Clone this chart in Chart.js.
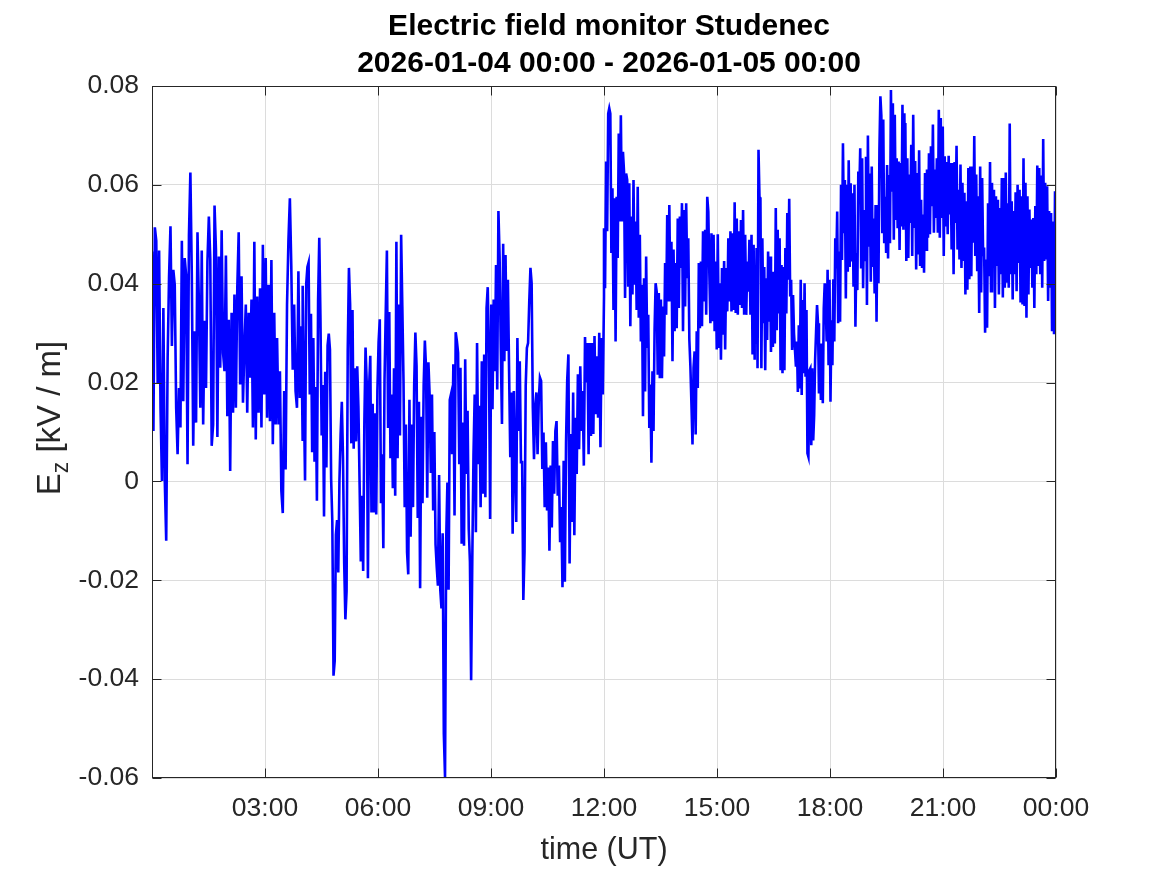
<!DOCTYPE html>
<html>
<head>
<meta charset="utf-8">
<title>Electric field monitor Studenec</title>
<script src="https://cdn.jsdelivr.net/npm/chart.js@4.4.1/dist/chart.umd.min.js"></script>
<style>
  html, body { margin: 0; padding: 0; background: #fff; }
  canvas { display: block; }
</style>
</head>
<body>
<canvas id="ezChart" width="1167" height="875"></canvas>
<script>
// Texts
const titleLines = ['Electric field monitor Studenec', '2026-01-04 00:00 - 2026-01-05 00:00'];
const xAxisLabel = 'time (UT)';
const yLabelMain = 'E';
const yLabelSub = 'z';
const yLabelUnit = ' [kV / m]';

// Axis ranges (hours since 2026-01-04 00:00 UT, kV/m)
const xMin = 0, xMax = 24, xStep = 3;
const yMin = -0.06, yMax = 0.08, yStep = 0.02;

// Ez samples [kV/m] in 4-hour blocks
const ez_00_04 = [0.0465, 0.0102, 0.0514, 0.0487, 0.0199, 0.0467, 0.0149, 0.0001, 0.0351, 0.0001,
  -0.0120, 0.0250, 0.0415, 0.0516, 0.0274, 0.0428, 0.0398, 0.0149, 0.0055, 0.0189,
  0.0109, 0.0487, 0.0162, 0.0452, 0.0418, 0.0035, 0.0499, 0.0625, 0.0418, 0.0072,
  0.0304, 0.0119, 0.0504, 0.0358, 0.0149, 0.0467, 0.0115, 0.0325, 0.0189, 0.0445,
  0.0536, 0.0450, 0.0072, 0.0115, 0.0558, 0.0467, 0.0090, 0.0455, 0.0230, 0.0508,
  0.0260, 0.0223, 0.0457, 0.0132, 0.0327, 0.0021, 0.0341, 0.0139, 0.0378, 0.0149,
  0.0391, 0.0504, 0.0196, 0.0415, 0.0159, 0.0270, 0.0358, 0.0139, 0.0341, 0.0210,
  0.0368, 0.0109, 0.0485, 0.0085, 0.0374, 0.0139, 0.0391, 0.0109, 0.0479, 0.0176,
  0.0452, 0.0129, 0.0398, 0.0122, 0.0448, 0.0075, 0.0341, 0.0115, 0.0290, 0.0115,
  0.0223, -0.0019, -0.0064, 0.0183, 0.0024, 0.0358, 0.0489, 0.0573, 0.0435, 0.0226,
  0.0358, 0.0183, 0.0149, 0.0425, 0.0169, 0.0314, 0.0082];

const ez_04_08 = [0.0396, 0.0172, 0.0002, 0.0400, 0.0434, 0.0443, 0.0176, 0.0339, 0.0059, 0.0290,
  0.0040, 0.0191, -0.0039, 0.0366, 0.0493, 0.0328, 0.0093, 0.0195, -0.0071, 0.0222,
  0.0028, 0.0275, 0.0299, 0.0267, 0.0005, -0.0082, -0.0393, -0.0363, -0.0108, -0.0078,
  -0.0184, 0.0002, 0.0096, 0.0161, 0.0047, -0.0165, -0.0279, -0.0222, 0.0267, 0.0432,
  0.0358, 0.0077, 0.0347, 0.0066, 0.0229, 0.0081, 0.0233, 0.0150, -0.0006, -0.0162,
  -0.0029, -0.0181, 0.0119, 0.0271, 0.0199, -0.0196, 0.0191, 0.0254, -0.0063, 0.0157,
  -0.0063, 0.0138, -0.0067, 0.0184, 0.0282, 0.0328, -0.0044, 0.0055, -0.0135, 0.0206,
  0.0339, 0.0467, 0.0108, 0.0343, 0.0047, 0.0176, -0.0014, 0.0229, -0.0029, 0.0485,
  0.0047, 0.0358, 0.0093, 0.0499, 0.0354, 0.0203, -0.0052, 0.0115, -0.0143, -0.0188,
  0.0165, -0.0112, 0.0115, -0.0052, 0.0195, 0.0301, 0.0233, -0.0074, 0.0161, -0.0216,
  0.0131, -0.0044, 0.0195, 0.0285, 0.0229, -0.0033, 0.0241, 0.0176, 0.0017, 0.0176,
  -0.0059, 0.0100, -0.0127, -0.0173, -0.0211, 0.0013, -0.0219, -0.0257, -0.0105, -0.0511,
  -0.0598, -0.0116, -0.0002, -0.0219, 0.0165, 0.0176, 0.0055, 0.0233];

const ez_08_12 = [0.0237, -0.0069, 0.0302, 0.0284, 0.0260, 0.0035, 0.0230, -0.0126, 0.0119, -0.0130,
  0.0247, 0.0015, 0.0143, -0.0096, -0.0163, -0.0402, -0.0153, 0.0055, 0.0176, -0.0103,
  0.0280, 0.0035, 0.0153, -0.0052, 0.0243, -0.0025, 0.0257, -0.0032, 0.0351, 0.0393,
  0.0260, -0.0076, 0.0358, 0.0146, 0.0368, 0.0223, 0.0438, 0.0186, 0.0547, 0.0455,
  0.0267, 0.0116, 0.0481, 0.0243, 0.0458, 0.0264, 0.0408, 0.0223, 0.0049, 0.0180,
  -0.0106, 0.0183, 0.0035, -0.0082, 0.0290, 0.0102, 0.0243, 0.0039, 0.0039, -0.0240,
  -0.0143, 0.0193, 0.0270, 0.0280, 0.0364, 0.0432, 0.0401, 0.0149, 0.0045, 0.0153,
  0.0180, 0.0055, 0.0163, 0.0210, 0.0203, 0.0025, 0.0099, -0.0052, 0.0079, -0.0059,
  0.0028, -0.0140, 0.0032, -0.0093, 0.0082, -0.0025, 0.0102, 0.0122, -0.0029, 0.0032,
  -0.0123, -0.0052, -0.0214, 0.0042, -0.0203, 0.0079, 0.0206, 0.0257, -0.0166, 0.0096,
  -0.0082, 0.0180, -0.0109, 0.0129, 0.0015, 0.0217, 0.0065, 0.0233, 0.0102, 0.0183,
  0.0032, 0.0292, 0.0200, 0.0280, 0.0055, 0.0280, 0.0092, 0.0280, 0.0096, 0.0294,
  0.0136, 0.0253, 0.0129, 0.0301, 0.0069, 0.0290, 0.0176, 0.0374];

const ez_12_16 = [0.0512, 0.0391, 0.0647, 0.0506, 0.0744, 0.0755, 0.0744, 0.0462, 0.0593, 0.0347,
  0.0573, 0.0283, 0.0576, 0.0452, 0.0704, 0.0526, 0.0741, 0.0526, 0.0667, 0.0627,
  0.0371, 0.0623, 0.0610, 0.0394, 0.0603, 0.0314, 0.0536, 0.0378, 0.0610, 0.0398,
  0.0526, 0.0347, 0.0596, 0.0331, 0.0499, 0.0283, 0.0398, 0.0132, 0.0411, 0.0182,
  0.0455, 0.0270, 0.0337, 0.0108, 0.0196, 0.0038, 0.0223, 0.0102, 0.0307, 0.0401,
  0.0384, 0.0216, 0.0381, 0.0209, 0.0368, 0.0209, 0.0354, 0.0253, 0.0442, 0.0337,
  0.0539, 0.0364, 0.0559, 0.0364, 0.0485, 0.0243, 0.0469, 0.0304, 0.0442, 0.0310,
  0.0532, 0.0351, 0.0536, 0.0432, 0.0563, 0.0304, 0.0549, 0.0354, 0.0563, 0.0411,
  0.0492, 0.0287, 0.0233, 0.0156, 0.0075, 0.0230, 0.0263, 0.0095, 0.0304, 0.0189,
  0.0442, 0.0310, 0.0445, 0.0314, 0.0506, 0.0364, 0.0509, 0.0337, 0.0576, 0.0546,
  0.0418, 0.0320, 0.0502, 0.0324, 0.0499, 0.0304, 0.0445, 0.0267, 0.0500, 0.0270,
  0.0401, 0.0246, 0.0432, 0.0297, 0.0446, 0.0267, 0.0432, 0.0344, 0.0492, 0.0364,
  0.0506, 0.0344, 0.0502, 0.0347, 0.0565, 0.0341, 0.0532, 0.0337, 0.0506, 0.0357,
  0.0529, 0.0351, 0.0549, 0.0337, 0.0499, 0.0337, 0.0445, 0.0384, 0.0489, 0.0337,
  0.0499, 0.0257, 0.0479, 0.0246];

const ez_16_20 = [0.0438, 0.0279, 0.0472, 0.0229, 0.0671, 0.0576, 0.0573, 0.0229, 0.0492, 0.0320,
  0.0434, 0.0225, 0.0411, 0.0286, 0.0465, 0.0323, 0.0455, 0.0262, 0.0424, 0.0272,
  0.0424, 0.0279, 0.0553, 0.0306, 0.0509, 0.0340, 0.0492, 0.0225, 0.0438, 0.0219,
  0.0434, 0.0225, 0.0472, 0.0340, 0.0543, 0.0408, 0.0572, 0.0374, 0.0408, 0.0266,
  0.0377, 0.0299, 0.0299, 0.0232, 0.0283, 0.0181, 0.0316, 0.0188, 0.0408, 0.0175,
  0.0367, 0.0219, 0.0401, 0.0212, 0.0347, 0.0057, 0.0050, 0.0225, 0.0229, 0.0073,
  0.0229, 0.0083, 0.0134, 0.0246, 0.0303, 0.0357, 0.0320, 0.0178, 0.0279, 0.0165,
  0.0279, 0.0158, 0.0350, 0.0401, 0.0364, 0.0283, 0.0428, 0.0235, 0.0408, 0.0161,
  0.0326, 0.0235, 0.0409, 0.0283, 0.0492, 0.0431, 0.0546, 0.0320, 0.0465, 0.0323,
  0.0600, 0.0448, 0.0684, 0.0502, 0.0610, 0.0370, 0.0600, 0.0424, 0.0650, 0.0434,
  0.0603, 0.0445, 0.0583, 0.0394, 0.0600, 0.0313, 0.0462, 0.0387, 0.0627, 0.0580,
  0.0674, 0.0431, 0.0654, 0.0391, 0.0549, 0.0448, 0.0657, 0.0357, 0.0700, 0.0475,
  0.0623, 0.0404, 0.0637, 0.0434, 0.0532, 0.0380, 0.0559, 0.0323, 0.0559, 0.0401,
  0.0671, 0.0779, 0.0740, 0.0502, 0.0732, 0.0482, 0.0576, 0.0462, 0.0640, 0.0451,
  0.0620, 0.0482, 0.0792, 0.0586, 0.0765, 0.0489, 0.0742, 0.0529, 0.0654, 0.0512,
  0.0647, 0.0468, 0.0644, 0.0516, 0.0762, 0.0509, 0.0745, 0.0532];

const ez_20_24 = [0.0725, 0.0446, 0.0654, 0.0452, 0.0621, 0.0523, 0.0681, 0.0456, 0.0742, 0.0513,
  0.0648, 0.0429, 0.0624, 0.0459, 0.0670, 0.0436, 0.0570, 0.0432, 0.0540, 0.0422,
  0.0624, 0.0469, 0.0631, 0.0493, 0.0664, 0.0500, 0.0678, 0.0557, 0.0722, 0.0503,
  0.0631, 0.0533, 0.0654, 0.0503, 0.0752, 0.0493, 0.0735, 0.0533, 0.0718, 0.0456,
  0.0658, 0.0516, 0.0646, 0.0500, 0.0659, 0.0540, 0.0644, 0.0469, 0.0644, 0.0419,
  0.0646, 0.0523, 0.0679, 0.0469, 0.0590, 0.0449, 0.0641, 0.0432, 0.0604, 0.0446,
  0.0584, 0.0378, 0.0567, 0.0388, 0.0634, 0.0409, 0.0637, 0.0415, 0.0637, 0.0483,
  0.0699, 0.0456, 0.0621, 0.0425, 0.0577, 0.0341, 0.0637, 0.0382, 0.0614, 0.0456,
  0.0473, 0.0301, 0.0449, 0.0311, 0.0563, 0.0415, 0.0646, 0.0385, 0.0604, 0.0446,
  0.0590, 0.0351, 0.0577, 0.0436, 0.0570, 0.0378, 0.0553, 0.0419, 0.0614, 0.0372,
  0.0614, 0.0392, 0.0625, 0.0402, 0.0563, 0.0392, 0.0724, 0.0419, 0.0567, 0.0368,
  0.0547, 0.0419, 0.0585, 0.0385, 0.0600, 0.0442, 0.0590, 0.0362, 0.0577, 0.0358,
  0.0654, 0.0355, 0.0604, 0.0331, 0.0577, 0.0378, 0.0550, 0.0432, 0.0530, 0.0392,
  0.0533, 0.0351, 0.0557, 0.0419, 0.0639, 0.0436, 0.0634, 0.0419, 0.0619, 0.0392,
  0.0693, 0.0446, 0.0604, 0.0449, 0.0597, 0.0365, 0.0547, 0.0392, 0.0543, 0.0304,
  0.0526, 0.0298, 0.0587, 0.0331];

const blocks = [ez_00_04, ez_04_08, ez_08_12, ez_12_16, ez_16_20, ez_20_24];
const blockStart = [0, 4, 8, 12, 16, 20];
const blockLength = 4;

// samples are evenly spread over each 4-hour block
const points = [];
blocks.forEach((vals, k) => {
    vals.forEach((v, i) => {
        points.push({ x: blockStart[k] + i * blockLength / (vals.length - 1), y: v });
    });
});

const axisColor = '#262626';
const fontFamily = '"Liberation Sans", Arial, Helvetica, sans-serif';

Chart.defaults.font.family = fontFamily;
Chart.defaults.color = axisColor;

// MATLAB-like box, inward ticks, title and axis labels
const matlabAxes = {
    id: 'matlabAxes',
    afterDraw(chart) {
        const { ctx, chartArea: a, scales: { x, y } } = chart;
        const L = Math.round(a.left) + 0.5, R = Math.round(a.right) - 0.5;
        const T = Math.round(a.top) + 0.5, B = Math.round(a.bottom) - 0.5;
        const tickLen = 9;
        ctx.save();
        ctx.strokeStyle = axisColor;
        ctx.lineWidth = 1;
        ctx.strokeRect(L, T, R - L, B - T);
        ctx.beginPath();
        x.ticks.forEach(t => {
            const px = Math.round(x.getPixelForValue(t.value)) + 0.5;
            ctx.moveTo(px, B); ctx.lineTo(px, B - tickLen);
            ctx.moveTo(px, T); ctx.lineTo(px, T + tickLen);
        });
        y.ticks.forEach(t => {
            const py = Math.round(y.getPixelForValue(t.value)) + 0.5;
            ctx.moveTo(L, py); ctx.lineTo(L + tickLen, py);
            ctx.moveTo(R, py); ctx.lineTo(R - tickLen, py);
        });
        ctx.stroke();

        // title
        const cx = (a.left + a.right) / 2 + 5;
        ctx.fillStyle = '#000';
        ctx.font = 'bold 30px ' + fontFamily;
        ctx.textAlign = 'center';
        ctx.textBaseline = 'alphabetic';
        ctx.fillText(titleLines[0], cx, 34.5);
        ctx.fillText(titleLines[1], cx, 72);

        // x label
        ctx.fillStyle = axisColor;
        ctx.font = '30.5px ' + fontFamily;
        ctx.fillText(xAxisLabel, (a.left + a.right) / 2, 859);

        // y label with subscript
        ctx.translate(60, 418);
        ctx.rotate(-Math.PI / 2);
        const big = '33px ' + fontFamily, small = '23px ' + fontFamily;
        ctx.font = big;
        const wE = ctx.measureText(yLabelMain).width;
        const wU = ctx.measureText(yLabelUnit).width;
        ctx.font = small;
        const wz = ctx.measureText(yLabelSub).width;
        let x0 = -(wE + wz + wU) / 2;
        ctx.textAlign = 'left';
        ctx.font = big;
        ctx.fillText(yLabelMain, x0, 0);
        ctx.font = small;
        ctx.fillText(yLabelSub, x0 + wE, 8);
        ctx.font = big;
        ctx.fillText(yLabelUnit, x0 + wE + wz, 0);
        ctx.restore();
    }
};

const fmtHour = h => h === 0 ? '' : String(h % 24).padStart(2, '0') + ':00';
const fmtEz = v => Math.abs(v) < 1e-9 ? '0' : v.toFixed(2);

new Chart(document.getElementById('ezChart'), {
    type: 'line',
    data: {
        datasets: [{
            label: 'Ez',
            data: points,
            borderColor: '#0000ff',
            borderWidth: 2.6,
            pointRadius: 0,
            tension: 0,
            fill: false
        }]
    },
    options: {
        responsive: false,
        animation: false,
        events: [],
        layout: { padding: { top: 86, right: 111, bottom: 0, left: 0 } },
        plugins: {
            legend: { display: false },
            title: { display: false },
            tooltip: { enabled: false }
        },
        scales: {
            x: {
                type: 'linear',
                min: xMin,
                max: xMax,
                afterFit: s => { s.height = 97; },
                grid: { color: '#dcdcdc', drawTicks: false },
                border: { display: false },
                ticks: {
                    stepSize: xStep,
                    autoSkip: false,
                    maxRotation: 0,
                    padding: 15,
                    font: { size: 26.5 },
                    color: axisColor,
                    callback: fmtHour
                }
            },
            y: {
                min: yMin,
                max: yMax,
                afterFit: s => { s.width = 152; },
                grid: { color: '#dcdcdc', drawTicks: false },
                border: { display: false },
                ticks: {
                    stepSize: yStep,
                    padding: 13,
                    font: { size: 26.5 },
                    color: axisColor,
                    callback: fmtEz
                }
            }
        }
    },
    plugins: [matlabAxes]
});
</script>
</body>
</html>
